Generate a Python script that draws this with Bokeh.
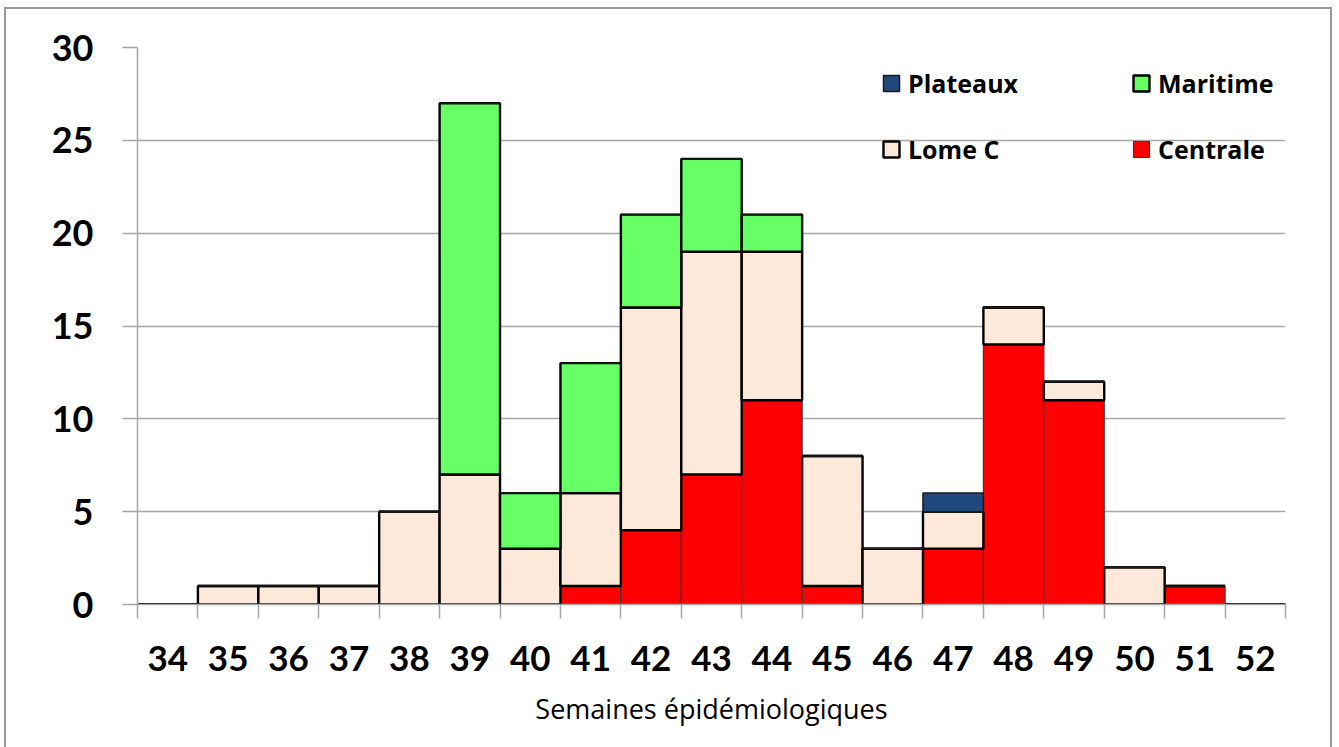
from bokeh.plotting import figure
from bokeh.models import Range1d, FixedTicker, Legend, LegendItem, ColumnDataSource
from bokeh.embed import file_html
from bokeh.resources import INLINE

# Epidemiological weeks and weekly case counts per region
weeks = [34, 35, 36, 37, 38, 39, 40, 41, 42, 43, 44, 45, 46, 47, 48, 49, 50, 51, 52]
centrale = [0, 0, 0, 0, 0, 0, 0, 1, 4, 7, 11, 1, 0, 3, 14, 11, 0, 1, 0]
lome_c   = [0, 1, 1, 1, 5, 7, 3, 5, 12, 12, 8, 7, 3, 2, 2, 1, 2, 0, 0]
maritime = [0, 0, 0, 0, 0, 20, 3, 7, 5, 5, 2, 0, 0, 0, 0, 0, 0, 0, 0]
plateaux = [0, 0, 0, 0, 0, 0, 0, 0, 0, 0, 0, 0, 0, 1, 0, 0, 0, 0, 0]

series = ["Centrale", "Lome C", "Maritime", "Plateaux"]
colors = ["#FF0000", "#FDE9D9", "#66FF66", "#1F497D"]
outlines = ["#3a3a3a", "#000000", "#000000", "#1a1a1a"]
y_ticks = [0, 5, 10, 15, 20, 25, 30]

source = ColumnDataSource(dict(week=weeks, Centrale=centrale, **{"Lome C": lome_c},
                               Maritime=maritime, Plateaux=plateaux))

p = figure(width=1328, height=740, output_backend="svg", toolbar_location=None,
           x_range=Range1d(weeks[0] - 0.5, weeks[-1] + 0.5),
           y_range=Range1d(0, 30),
           min_border_left=131, min_border_right=49,
           min_border_top=38, min_border_bottom=145)
p.margin = (7, 0, 0, 4)
p.styles = {"border": "2px solid #9a9a9a", "border-bottom": "none"}
p.outline_line_color = None
p.background_fill_color = "white"
p.border_fill_color = "white"

renderers = p.vbar_stack(series, x="week", width=1.0, source=source,
                         fill_color=colors, line_color=outlines,
                         line_width=[1.2, 2.4, 2.4, 1.5])

# y axis
p.yaxis.ticker = FixedTicker(ticks=y_ticks)
p.yaxis.axis_line_color = "#A6A6A6"
p.yaxis.axis_line_width = 1.5
p.yaxis.major_tick_line_color = "#A6A6A6"
p.yaxis.major_tick_line_width = 1.5
p.yaxis.major_tick_out = 15
p.yaxis.major_tick_in = 0
p.yaxis.minor_tick_line_color = None
p.yaxis.major_label_text_font = "Lato"
p.yaxis.major_label_text_font_style = "bold"
p.yaxis.major_label_text_font_size = "36px"
p.yaxis.major_label_text_color = "black"
p.yaxis.major_label_standoff = 29

# x axis: labels at week centres, tick marks at the week boundaries
bounds = [w - 0.5 for w in weeks] + [weeks[-1] + 0.5]
p.xaxis.ticker = FixedTicker(ticks=weeks, minor_ticks=bounds)
p.xaxis.axis_line_color = "#A6A6A6"
p.xaxis.axis_line_width = 1.5
p.xaxis.major_tick_line_color = None
p.xaxis.major_tick_out = 0
p.xaxis.major_tick_in = 0
p.xaxis.minor_tick_line_color = "#A6A6A6"
p.xaxis.minor_tick_line_width = 1.5
p.xaxis.minor_tick_out = 14
p.xaxis.minor_tick_in = 0
p.xaxis.major_label_text_font = "Lato"
p.xaxis.major_label_text_font_style = "bold"
p.xaxis.major_label_text_font_size = "35px"
p.xaxis.major_label_text_color = "black"
p.xaxis.major_label_standoff = 27
p.xaxis.axis_label = "Semaines épidémiologiques"
p.xaxis.axis_label_text_font = "Open Sans"
p.xaxis.axis_label_text_font_style = "normal"
p.xaxis.axis_label_text_font_size = "27px"
p.xaxis.axis_label_text_color = "black"
p.xaxis.axis_label_standoff = 16

p.xgrid.grid_line_color = None
p.ygrid.ticker = FixedTicker(ticks=y_ticks)
p.ygrid.grid_line_color = "#A6A6A6"
p.ygrid.grid_line_width = 1.5

# Legend: two columns, two rows
by_name = dict(zip(series, renderers))
items = [LegendItem(label=n, renderers=[by_name[n]]) for n in
         ["Plateaux", "Lome C", "Maritime", "Centrale"]]
legend = Legend(items=items, ncols=2, orientation="vertical",
                location=(744, 438))
legend.background_fill_alpha = 0
legend.border_line_color = None
legend.padding = 0
legend.margin = 0
legend.spacing = 32
legend.glyph_width = 20
legend.glyph_height = 20
legend.label_standoff = 7
legend.label_width = 191
legend.label_height = 24
legend.label_text_font = "Open Sans"
legend.label_text_font_style = "bold"
legend.label_text_font_size = "25px"
legend.label_text_color = "black"
p.add_layout(legend, "center")

open("out.html", "w").write(file_html(p, INLINE))
